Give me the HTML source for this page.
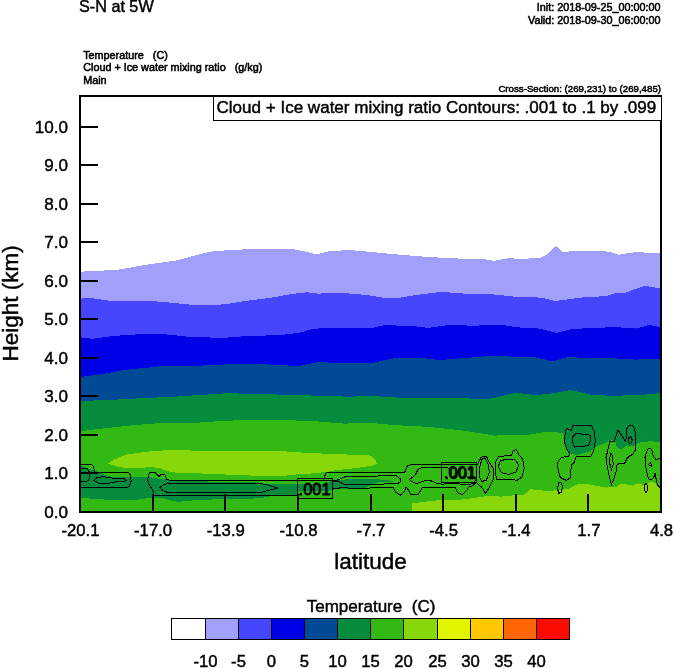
<!DOCTYPE html>
<html><head><meta charset="utf-8"><title>S-N at 5W</title>
<style>
html,body{margin:0;padding:0;background:#fff;}
svg{display:block;font-family:"Liberation Sans",sans-serif;fill:#000;}
.sm{font-size:10.8px;stroke:#000;stroke-width:0.55px;}
.xs{font-size:9.7px;stroke:#000;stroke-width:0.5px;}
.t17{font-size:17.05px;stroke:#000;stroke-width:0.45px;}
.t166{font-size:16.7px;stroke:#000;stroke-width:0.45px;}
.t22{font-size:22.5px;stroke:#000;stroke-width:0.45px;}
</style></head><body>
<svg width="674" height="668" viewBox="0 0 674 668">
<rect x="0" y="0" width="674" height="668" fill="#fff"/>
<g shape-rendering="crispEdges">
<polygon points="80.0,271.7 100.0,270.8 119.3,269.5 145.6,264.9 178.4,260.1 193.7,255.8 211.0,251.6 226.0,250.3 247.9,249.2 293.8,249.2 302.5,251.0 313.4,253.6 320.0,253.6 330.9,250.7 352.8,250.3 372.0,252.0 393.9,254.2 426.6,256.9 459.4,258.6 485.7,259.5 494.4,260.8 509.7,258.0 518.0,259.0 539.9,258.0 546.4,254.7 556.3,245.9 562.8,252.5 574.8,250.7 609.8,251.6 618.5,254.7 636.0,252.0 661.0,253.6 661.0,512.0 80.0,512.0" fill="#a0a0fa"/>
<polygon points="80.0,298.8 88.7,297.7 112.8,301.2 145.6,300.6 167.4,302.3 193.7,305.0 215.5,305.0 226.0,304.1 247.9,300.6 269.7,298.0 291.6,294.0 306.9,292.3 317.8,293.6 339.7,292.9 357.1,294.0 372.0,295.8 385.1,298.0 398.2,298.0 415.7,295.1 441.9,291.8 463.8,293.6 494.4,294.5 518.0,297.0 531.1,296.6 544.2,298.4 555.2,301.0 583.6,297.3 605.4,296.2 616.4,292.9 623.0,293.5 644.8,285.7 661.0,288.6 661.0,512.0 80.0,512.0" fill="#4646ff"/>
<polygon points="80.0,337.3 93.1,338.8 112.8,336.0 145.6,333.8 167.4,334.5 193.7,337.3 226.0,337.7 247.9,336.0 280.6,335.1 298.1,332.9 313.4,329.0 324.4,327.9 372.0,327.9 385.1,325.0 415.7,326.4 428.8,327.9 450.7,324.6 470.4,325.7 503.1,325.0 518.0,327.4 539.9,328.6 556.3,332.9 570.5,329.4 590.1,327.9 616.4,327.2 636.0,328.6 649.1,325.0 661.0,327.2 661.0,512.0 80.0,512.0" fill="#0000e6"/>
<polygon points="80.0,377.0 108.4,373.1 123.7,370.0 145.6,367.9 163.0,365.7 193.7,366.1 211.0,365.0 226.0,364.4 258.8,364.0 291.6,365.7 300.3,365.7 317.8,362.2 339.7,362.9 372.0,362.9 396.0,357.8 426.6,358.5 439.8,360.0 459.4,358.5 485.7,356.3 503.1,355.7 518.0,357.4 535.5,357.4 553.0,361.3 566.1,357.4 605.4,357.8 636.0,359.6 661.0,358.5 661.0,512.0 80.0,512.0" fill="#004a96"/>
<polygon points="80.0,401.0 112.8,399.8 145.6,398.0 169.0,397.0 200.0,395.0 226.0,393.3 258.8,393.8 291.6,395.1 324.4,395.8 348.4,396.7 372.0,396.0 404.8,398.0 437.6,398.4 463.8,398.0 481.3,399.5 494.4,398.0 511.9,393.6 518.0,393.0 535.5,395.1 550.8,393.6 570.5,390.1 590.1,394.5 616.4,396.2 631.7,394.5 644.8,394.5 661.0,393.0 661.0,512.0 80.0,512.0" fill="#058c3c"/>
<polygon points="80.0,431.2 101.9,428.6 134.6,425.1 167.4,422.5 200.2,422.5 226.0,420.7 258.8,419.8 291.6,420.3 317.8,421.4 344.0,423.6 372.0,423.0 393.9,425.1 426.6,426.8 459.4,430.1 481.3,433.4 494.4,435.6 518.0,434.8 530.0,434.5 539.0,433.0 549.3,431.5 562.6,433.0 563.4,433.7 565.6,447.1 570.0,453.0 576.0,455.3 589.3,451.5 593.8,447.8 599.7,444.9 605.0,443.0 608.0,441.5 612.1,440.2 615.4,441.8 616.5,446.2 619.2,449.0 623.0,448.4 626.4,445.7 633.0,446.2 636.2,444.6 640.6,442.4 649.4,441.3 661.0,441.8 661.0,512.0 80.0,512.0" fill="#32b914"/>
<polygon points="108.2,463.7 114.8,459.3 125.2,454.8 137.1,453.1 151.9,451.1 171.2,450.1 200.0,450.7 280.0,450.7 290.0,451.9 312.3,453.1 334.5,454.1 356.8,454.8 368.6,455.1 373.0,457.1 376.0,460.8 376.8,463.7 373.0,465.5 361.2,467.4 349.3,468.9 334.5,470.4 326.4,471.9 312.3,473.4 290.0,474.9 286.0,475.6 252.0,475.6 222.3,474.4 200.0,473.4 183.1,472.9 171.2,472.3 165.3,470.4 159.3,467.9 150.4,467.0 137.1,468.2 126.7,468.2 117.8,466.7" fill="#87d70a"/>
<polygon points="80.0,465.6 92.8,470.0 98.8,472.3 105.0,475.0 115.0,477.4 150.0,477.4 167.0,479.7 178.0,481.0 226.0,481.8 259.0,482.5 262.0,483.5 297.0,483.5 297.0,484.1 326.0,484.1 332.0,481.0 345.0,479.5 365.0,478.5 376.0,479.0 393.0,481.0 393.0,481.8 378.0,482.5 370.0,485.6 365.0,487.8 347.7,488.6 335.0,489.5 326.0,491.2 297.0,491.2 297.0,494.5 276.0,495.3 268.0,496.6 262.0,498.0 250.0,498.8 222.5,499.0 192.8,500.4 178.0,501.8 170.0,500.4 161.0,497.5 152.0,497.5 137.3,499.7 107.7,499.7 92.8,499.0 80.0,497.5" fill="#058c3c"/>
<polygon points="412.0,512.0 412.0,503.4 422.5,502.0 437.3,500.4 452.0,500.4 467.0,499.0 478.0,497.4 489.9,495.5 500.3,496.7 515.1,495.2 524.0,494.5 527.0,492.3 530.0,489.3 540.3,490.0 549.2,491.5 556.6,490.0 567.0,489.3 573.0,486.3 578.0,484.1 589.3,484.4 600.0,486.5 606.6,487.6 616.5,486.5 620.0,484.5 626.7,484.4 632.6,485.6 638.5,483.2 643.7,485.0 646.7,484.1 649.7,482.4 652.6,481.9 655.6,483.5 657.8,486.5 661.0,486.9 661.0,512.0" fill="#87d70a"/>
</g>
<g fill="none" stroke="#000" stroke-width="1" shape-rendering="crispEdges">
<polyline points="80.1,464.4 91.4,464.4 93.3,466.3 94.0,469.3 94.3,472.3"/>
<polyline points="80.1,472.3 128.4,472.3 130.7,475.2 131.1,481.2 129.2,486.4 127.0,487.4 80.1,487.4"/>
<polyline points="80.1,468.5 86.9,468.5 89.1,471.5 89.9,476.0 88.4,480.4 85.4,481.9 80.1,481.9"/>
<polygon points="93.6,480.4 97.3,477.4 103.2,476.7 115.1,478.5 124.0,478.5 126.2,480.4 124.0,481.9 115.1,481.9 107.7,483.4 98.8,483.4"/>
<polyline points="147.7,479.7 148.5,474.5 150.0,472.3 155.2,472.6 158.9,476.4 161.8,474.0 164.8,474.5 166.3,478.9 170.0,480.4 332.4,480.3"/>
<polyline points="147.7,479.7 149.2,484.9 152.2,489.3 153.7,493.0 154.0,495.3 297.3,495.1"/>
<polyline points="250.0,483.3 259.0,483.3 268.0,485.0 277.6,488.0 263.5,491.7 262.0,492.4 250.0,492.4"/>
<polyline points="178.0,492.7 168.5,492.7 164.1,491.2 159.6,487.8 163.3,484.9 167.0,483.8 178.0,483.4"/>
<polyline points="178.0,483.4 250.0,483.3"/>
<polyline points="178.0,492.7 250.0,492.4"/>
<polyline points="323.5,480.2 325.0,475.6 326.2,472.5 404.7,472.3 406.9,466.3 412.1,464.1 441.8,464.3 476.0,464.3"/>
<polyline points="332.4,488.9 346.0,487.2 349.0,488.5 353.0,488.0 365.0,488.5 378.0,487.1 392.8,487.1 395.8,492.3 400.3,495.3 404.0,492.3 406.2,487.1 408.4,490.0 410.6,494.5 418.0,494.5 421.0,490.0 422.5,487.1 437.3,487.8 455.2,487.8 458.1,493.0 462.6,494.5 467.0,490.0 468.5,487.1 473.0,485.6 476.7,481.9"/>
<polyline points="332.4,482.3 343.8,477.1 349.0,476.4 365.0,476.4 378.0,476.0 395.8,475.5 400.3,478.9 400.3,481.9 397.3,483.8 378.0,484.1 365.0,484.1 343.8,484.4 338.6,481.3 332.4,480.8"/>
<polyline points="449.0,469.0 447.0,467.2 441.8,467.2 422.5,467.5 418.1,469.3 415.1,475.2 409.2,479.7 413.6,482.6 416.6,483.8 422.5,481.2 429.9,480.4 437.3,483.4 441.8,484.1 455.2,483.4 467.0,484.9 473.0,483.4 476.0,479.7"/>
<polygon points="476.3,466.7 481.2,457.1 486.4,456.3 489.3,462.3 493.1,468.2 493.8,478.6 489.3,487.5 485.6,493.4 481.9,487.5 476.7,483.0"/>
<polygon points="479.0,469.7 481.9,459.3 484.9,457.8 488.6,465.2 489.3,472.6 486.4,480.1 481.9,481.5 479.0,475.6"/>
<polygon points="495.3,462.3 498.2,456.3 511.6,455.6 513.1,451.1 516.1,449.2 519.0,454.8 522.7,459.3 524.2,468.2 522.0,477.1 517.5,480.1 496.8,479.3 495.0,471.2"/>
<polygon points="498.2,466.7 500.5,460.8 507.2,459.0 515.3,460.0 518.7,465.2 516.1,471.9 508.6,474.4 501.2,472.6"/>
<polyline points="570.1,476.0 571.5,464.9 574.5,461.9 576.0,456.7 590.8,456.7 593.8,450.1 595.3,441.2 594.5,432.3 591.6,425.6 573.0,425.6 571.5,430.8 568.9,429.3 566.4,428.1 564.9,435.2 564.9,444.1 567.1,450.1 569.3,453.0 568.9,456.0 561.2,457.5 558.2,461.2 557.4,466.4 559.7,476.0"/>
<polygon points="573.0,436.7 576.0,433.4 581.2,434.0 586.4,434.5 590.1,435.2 590.8,440.4 588.6,445.6 581.9,446.4 574.5,447.1 572.7,442.6"/>
<polyline points="559.7,476.0 561.9,478.2 566.4,480.4 569.8,478.2 570.8,476.0"/>
<polygon points="558.9,482.6 561.2,482.9 562.6,487.1 561.2,492.3 558.9,493.3 557.4,488.6"/>
<polyline points="606.0,459.0 608.2,448.4 609.9,441.3 614.3,441.3 618.1,430.3 625.8,441.8 626.9,428.7 629.1,425.4 632.9,425.4 635.1,430.9 636.0,441.8 635.7,449.5 632.9,453.9 628.5,456.7 626.9,459.0"/>
<polygon points="628.0,438.0 630.7,436.9 632.4,440.2 630.7,444.0 628.5,442.4"/>
<polyline points="606.8,453.2 606.0,457.6 607.1,465.3 609.3,476.2 611.5,484.5 614.3,477.3 616.5,470.7 616.5,465.3 619.2,463.6 624.7,463.1 627.4,457.6 632.9,454.3 635.7,448.8 635.7,444.4"/>
<polygon points="611.0,453.2 612.6,456.5 613.2,464.2 611.5,469.1 609.9,464.2 609.9,457.6"/>
<polyline points="660.6,457.6 656.0,459.8 653.2,455.4 651.6,449.3 648.3,448.2 646.7,452.1 645.0,457.6 645.6,466.4 647.2,474.0 648.3,478.4 651.1,480.1 653.8,477.3 654.9,472.9 656.0,478.4 657.6,485.0 660.6,488.3"/>
<polygon points="648.3,464.7 650.5,462.5 651.6,466.4"/>
<polygon points="646.0,483.2 647.5,485.5 647.8,489.0 646.8,492.0 645.8,492.8 644.8,490.5 644.2,487.0 645.0,484.5"/>
<rect x="297.8" y="478.9" width="35" height="20"/>
<rect x="441.5" y="462.6" width="35.2" height="20"/>
</g>
<g style="font-size:16.4px;stroke:#000;stroke-width:0.9px"><text x="298.6" y="494.8">.001</text><text x="443.8" y="477.8" style="stroke-width:0.5px">.001</text><text x="444.6" y="479.3" style="stroke-width:0.5px">.001</text></g>
<g stroke="#000" stroke-width="2" fill="none" shape-rendering="crispEdges">
<line x1="80" y1="512.0" x2="98" y2="512.0"/>
<line x1="80" y1="473.0" x2="98" y2="473.0"/>
<line x1="80" y1="435.0" x2="98" y2="435.0"/>
<line x1="80" y1="396.0" x2="98" y2="396.0"/>
<line x1="80" y1="358.0" x2="98" y2="358.0"/>
<line x1="80" y1="319.0" x2="98" y2="319.0"/>
<line x1="80" y1="281.0" x2="98" y2="281.0"/>
<line x1="80" y1="242.0" x2="98" y2="242.0"/>
<line x1="80" y1="204.0" x2="98" y2="204.0"/>
<line x1="80" y1="165.0" x2="98" y2="165.0"/>
<line x1="80" y1="127.0" x2="98" y2="127.0"/>
<line x1="152.6" y1="512" x2="152.6" y2="494.2"/>
<line x1="225.2" y1="512" x2="225.2" y2="494.2"/>
<line x1="297.9" y1="512" x2="297.9" y2="494.2"/>
<line x1="370.5" y1="512" x2="370.5" y2="494.2"/>
<line x1="443.1" y1="512" x2="443.1" y2="494.2"/>
<line x1="515.8" y1="512" x2="515.8" y2="494.2"/>
<line x1="588.4" y1="512" x2="588.4" y2="494.2"/>
<rect x="80" y="96" width="581" height="416"/>
</g>
<rect x="213.5" y="96.5" width="447.5" height="24" fill="#fff" stroke="#000" stroke-width="1" shape-rendering="crispEdges"/>
<text class="t17" x="216.5" y="112.6">Cloud + Ice water mixing ratio Contours: .001 to .1 by .099</text>
<text x="79" y="12.3" style="font-size:16.2px;stroke:#000;stroke-width:0.45px">S-N at 5W</text>
<g class="sm">
<text x="660.5" y="11" text-anchor="end">Init: 2018-09-25_00:00:00</text>
<text x="660.5" y="23.5" text-anchor="end">Valid: 2018-09-30_06:00:00</text>
<text x="83.2" y="59.4" xml:space="preserve">Temperature   (C)</text>
<text x="83.2" y="71.4" xml:space="preserve">Cloud + Ice water mixing ratio   (g/kg)</text>
<text x="83.2" y="83.6">Main</text>
</g>
<text class="xs" x="661" y="91.6" text-anchor="end">Cross-Section: (269,231) to (269,485)</text>
<g class="t17">
<text x="68" y="517.6" text-anchor="end">0.0</text>
<text x="68" y="478.6" text-anchor="end">1.0</text>
<text x="68" y="440.6" text-anchor="end">2.0</text>
<text x="68" y="401.6" text-anchor="end">3.0</text>
<text x="68" y="363.6" text-anchor="end">4.0</text>
<text x="68" y="324.6" text-anchor="end">5.0</text>
<text x="68" y="286.6" text-anchor="end">6.0</text>
<text x="68" y="247.6" text-anchor="end">7.0</text>
<text x="68" y="209.6" text-anchor="end">8.0</text>
<text x="68" y="170.6" text-anchor="end">9.0</text>
<text x="68" y="132.6" text-anchor="end">10.0</text>
</g>
<g class="t166">
<text x="80.5" y="536.4" text-anchor="middle">-20.1</text>
<text x="153.1" y="536.4" text-anchor="middle">-17.0</text>
<text x="225.8" y="536.4" text-anchor="middle">-13.9</text>
<text x="298.4" y="536.4" text-anchor="middle">-10.8</text>
<text x="371.0" y="536.4" text-anchor="middle">-7.7</text>
<text x="443.6" y="536.4" text-anchor="middle">-4.5</text>
<text x="516.2" y="536.4" text-anchor="middle">-1.4</text>
<text x="588.9" y="536.4" text-anchor="middle">1.7</text>
<text x="661.5" y="536.4" text-anchor="middle">4.8</text>
</g>
<text class="t22" transform="translate(18,303.4) rotate(-90)" text-anchor="middle">Height (km)</text>
<text class="t22" x="370.5" y="569.4" text-anchor="middle">latitude</text>
<text class="t17" x="371" y="611.7" text-anchor="middle" xml:space="preserve">Temperature  (C)</text>
<g shape-rendering="crispEdges">
<rect x="171.5" y="618.5" width="34" height="21" fill="#ffffff" stroke="#000" stroke-width="1"/>
<rect x="205.5" y="618.5" width="33" height="21" fill="#a0a0fa" stroke="#000" stroke-width="1"/>
<rect x="238.5" y="618.5" width="33" height="21" fill="#4646ff" stroke="#000" stroke-width="1"/>
<rect x="271.5" y="618.5" width="33" height="21" fill="#0000e6" stroke="#000" stroke-width="1"/>
<rect x="304.5" y="618.5" width="33" height="21" fill="#004a96" stroke="#000" stroke-width="1"/>
<rect x="337.5" y="618.5" width="33" height="21" fill="#058c3c" stroke="#000" stroke-width="1"/>
<rect x="370.5" y="618.5" width="33" height="21" fill="#32b914" stroke="#000" stroke-width="1"/>
<rect x="403.5" y="618.5" width="34" height="21" fill="#87d70a" stroke="#000" stroke-width="1"/>
<rect x="437.5" y="618.5" width="33" height="21" fill="#e1f500" stroke="#000" stroke-width="1"/>
<rect x="470.5" y="618.5" width="33" height="21" fill="#ffc800" stroke="#000" stroke-width="1"/>
<rect x="503.5" y="618.5" width="33" height="21" fill="#ff6405" stroke="#000" stroke-width="1"/>
<rect x="536.5" y="618.5" width="33" height="21" fill="#ff0a00" stroke="#000" stroke-width="1"/>
</g>
<g class="t166">
<text x="205.5" y="666.6" text-anchor="middle">-10</text>
<text x="238.5" y="666.6" text-anchor="middle">-5</text>
<text x="271.5" y="666.6" text-anchor="middle">0</text>
<text x="304.5" y="666.6" text-anchor="middle">5</text>
<text x="337.5" y="666.6" text-anchor="middle">10</text>
<text x="370.5" y="666.6" text-anchor="middle">15</text>
<text x="403.5" y="666.6" text-anchor="middle">20</text>
<text x="437.5" y="666.6" text-anchor="middle">25</text>
<text x="470.5" y="666.6" text-anchor="middle">30</text>
<text x="503.5" y="666.6" text-anchor="middle">35</text>
<text x="536.5" y="666.6" text-anchor="middle">40</text>
</g>
</svg>
</body></html>
